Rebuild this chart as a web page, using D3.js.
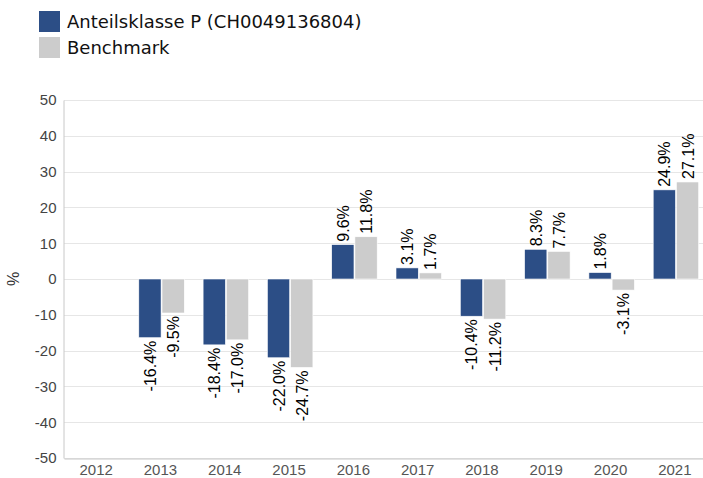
<!DOCTYPE html>
<html>
<head>
<meta charset="utf-8">
<script src="https://cdn.jsdelivr.net/npm/d3@7"></script>
<style>
  body { margin: 0; background: #fff; }
  svg { display: block; }
</style>
</head>
<body>
<svg id="chart" width="703" height="478"></svg>
<script>
// Daten
const years = ["2012", "2013", "2014", "2015", "2016", "2017", "2018", "2019", "2020", "2021"];
const fundValues = [null, -16.4, -18.4, -22.0, 9.6, 3.1, -10.4, 8.3, 1.8, 24.9];
const benchValues = [null, -9.5, -17.0, -24.7, 11.8, 1.7, -11.2, 7.7, -3.1, 27.1];
const seriesNames = ["Anteilsklasse P (CH0049136804)", "Benchmark"];
const yTicks = [50, 40, 30, 20, 10, 0, -10, -20, -30, -40, -50];

const colors = ["#2c4e86", "#cccccc"];
const labelFont = "'Liberation Sans', Arial, sans-serif";

const svg = d3.select("#chart");

const area = { left: 64, right: 707, top: 100, bottom: 458 };

// Skalen
const scX = d3.scaleBand()
    .domain(years)
    .range([area.left, area.right]);

const scY = d3.scaleLinear()
    .domain([-50, 50])
    .range([area.bottom, area.top]);

const scInner = d3.scaleBand()
    .domain([0, 1])
    .range([10.5, 56])
    .paddingInner(0.04);

// Gitterlinien
svg.append("g")
    .selectAll("line")
    .data(yTicks)
    .enter()
    .append("line")
    .attr("x1", area.left)
    .attr("x2", area.right)
    .attr("y1", d => Math.round(scY(d)) + 0.5)
    .attr("y2", d => Math.round(scY(d)) + 0.5)
    .style("stroke", "#e6e6e6")
    .style("stroke-width", 1);

// Y-Achse
const axisY = d3.axisLeft(scY).tickValues(yTicks).tickFormat(d => String(d)).tickSize(0).tickPadding(7);
const gY = svg.append("g")
    .attr("transform", `translate(${area.left - 0.5},0)`)
    .call(axisY);
gY.select(".domain").style("stroke", "#c8c8c8");
gY.selectAll("text")
    .style("font-family", labelFont)
    .style("font-size", "15px")
    .style("fill", "#444");

// X-Achse
const axisX = d3.axisBottom(scX).tickSize(0).tickPadding(6);
const gX = svg.append("g")
    .attr("transform", `translate(0,${area.bottom + 0.5})`)
    .call(axisX);
gX.select(".domain").style("stroke", "#c8c8c8");
gX.selectAll("text")
    .style("font-family", labelFont)
    .style("font-size", "15px")
    .style("fill", "#555");

// Achsentitel
svg.append("text")
    .attr("transform", `translate(19,${scY(0)}) rotate(-90)`)
    .attr("text-anchor", "middle")
    .style("font-family", labelFont)
    .style("font-size", "16px")
    .style("fill", "#333")
    .text("%");

// Balken
const series = [fundValues, benchValues];
series.forEach((vals, k) => {
    const data = years.map((y, i) => ({ year: y, value: vals[i] })).filter(d => d.value !== null);
    const g = svg.append("g");
    g.selectAll("rect")
        .data(data)
        .enter()
        .append("rect")
        .attr("x", d => scX(d.year) + scInner(k))
        .attr("width", scInner.bandwidth())
        .attr("y", d => scY(Math.max(0, d.value)))
        .attr("height", d => Math.abs(scY(d.value) - scY(0)))
        .style("fill", colors[k])
        .style("stroke", "#fff")
        .style("stroke-width", 0.6);

    g.selectAll("text")
        .data(data)
        .enter()
        .append("text")
        .attr("transform", d => {
            const x = scX(d.year) + scInner(k) + scInner.bandwidth() / 2 + 6;
            const y = d.value >= 0 ? scY(d.value) - 3 : scY(d.value) + 3;
            return `translate(${x},${y}) rotate(-90)`;
        })
        .attr("text-anchor", d => d.value >= 0 ? "start" : "end")
        .style("font-family", labelFont)
        .style("font-size", "16px")
        .style("fill", "#000")
        .text(d => d.value.toFixed(1) + "%");
});

// Legende
const legend = svg.append("g");
seriesNames.forEach((name, k) => {
    legend.append("rect")
        .attr("x", 39)
        .attr("y", 11 + k * 26)
        .attr("width", 21)
        .attr("height", 21)
        .style("fill", colors[k]);
    legend.append("text")
        .attr("x", 67)
        .attr("y", 28 + k * 26)
        .style("font-family", "'DejaVu Sans', Verdana, sans-serif")
        .style("font-size", "18px")
        .style("fill", "#111")
        .text(name);
});
</script>
</body>
</html>
